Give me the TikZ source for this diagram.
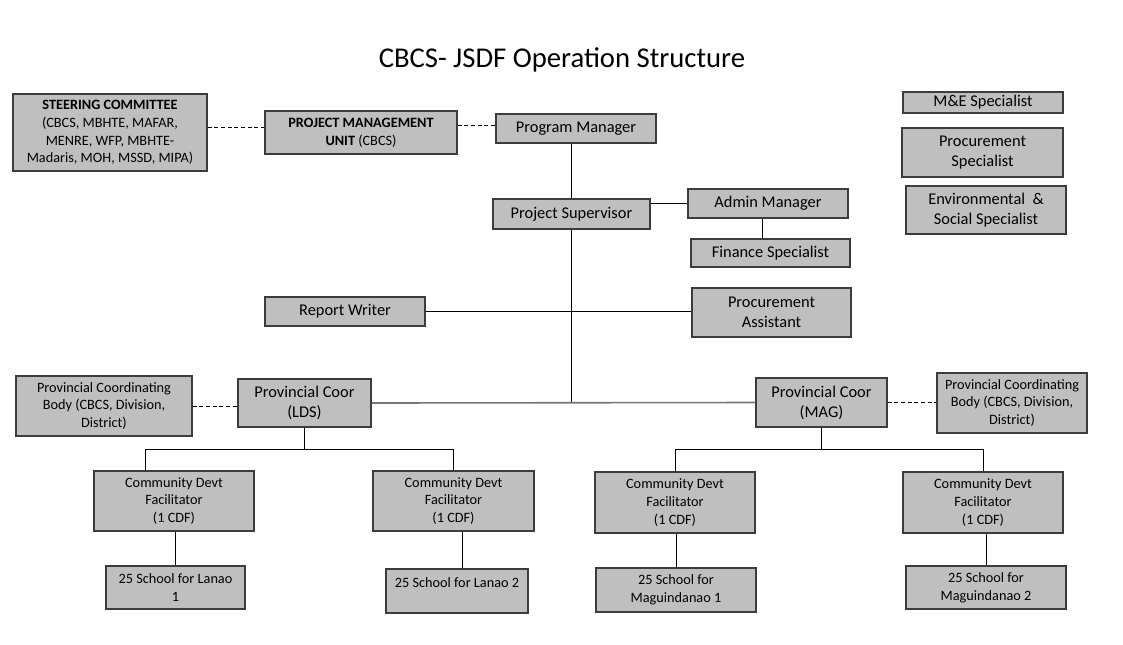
\documentclass[tikz,border=0pt]{standalone}
\usepackage{fontspec}
\setmainfont{Carlito}
\usetikzlibrary{positioning,calc}
\definecolor{boxgray}{RGB}{191,191,191}
\definecolor{edgegray}{RGB}{60,60,60}
\definecolor{linkgray}{RGB}{118,118,118}

\begin{document}
\begin{tikzpicture}[x=0.75pt, y=-0.75pt,
    orgbox/.style={draw=edgegray, fill=boxgray, line width=0.8pt, align=center, inner sep=1pt, font=\fontsize{12.3}{15}\selectfont},
    smallbox/.style={orgbox, font=\fontsize{10.7}{13.4}\selectfont},
    boxsize/.style 2 args={minimum width={#1*0.75pt}, minimum height={#2*0.75pt}},
    link/.style={draw=black, line width=0.75pt},
    dashlink/.style={draw=black, line width=0.65pt, dash pattern=on 3pt off 2pt}]
    \useasboundingbox (0,0) rectangle (1123,644);

    \node (title) at (562,60) {\fontsize{21.5}{26}\selectfont CBCS- JSDF Operation Structure};

    % top level
    \node[smallbox, boxsize={194}{77}] (steer) at (110,132.5) {\textbf{STEERING COMMITTEE}\\(CBCS, MBHTE, MAFAR,\\MENRE, WFP, MBHTE-\\Madaris, MOH, MSSD, MIPA)};
    \node[smallbox, boxsize={192}{43}] (pmu) at (361,132.5) {\textbf{PROJECT MANAGEMENT}\\\textbf{UNIT} (CBCS)};
    \node[orgbox, boxsize={160}{29}] (progman) at (576,128.5) {Program Manager};
    \node[orgbox, boxsize={157}{30}] (projsup) at (571.5,214) {Project Supervisor};
    \node[orgbox, boxsize={160}{29}] (admin) at (768,203.5) {Admin Manager};
    \node[orgbox, boxsize={159}{28}] (finance) at (770.5,253) {Finance Specialist};

    % specialists
    \node[orgbox, boxsize={160}{21}] (mande) at (983,102.5) {M\&E Specialist};
    \node[orgbox, boxsize={161}{49}] (procspec) at (982.5,152.5) {Procurement\\Specialist};
    \node[orgbox, boxsize={160}{48}] (envsoc) at (986,210) {Environmental~ \&\\Social Specialist};

    \node[orgbox, boxsize={160}{29}] (report) at (345,311.5) {Report Writer};
    \node[orgbox, boxsize={159}{49}] (procasst) at (771.5,312.5) {Procurement\\Assistant};

    % provinces
    \node[smallbox, boxsize={176}{60}] (pcbleft) at (104,406) {Provincial Coordinating\\Body (CBCS, Division,\\District)};
    \node[orgbox, boxsize={133}{48}] (lds) at (304.5,403) {Provincial Coor\\(LDS)};
    \node[orgbox, boxsize={131}{49}] (mag) at (821.5,402.5) {Provincial Coor\\(MAG)};
    \node[smallbox, boxsize={150}{60}] (pcbright) at (1012,403) {Provincial Coordinating\\Body (CBCS, Division,\\District)};

    \node[smallbox, boxsize={160}{60}] (cdfa) at (174,501) {Community Devt\\Facilitator\\(1 CDF)};
    \node[smallbox, boxsize={161}{60}] (cdfb) at (453.5,501) {Community Devt\\Facilitator\\(1 CDF)};
    \node[smallbox, boxsize={160}{61}] (cdfc) at (675,502.5) {Community Devt\\Facilitator\\(1 CDF)};
    \node[smallbox, boxsize={160}{61}] (cdfd) at (983,502.5) {Community Devt\\Facilitator\\(1 CDF)};

    \node[smallbox, boxsize={139}{43}] (schoola) at (175.5,587.5) {25 School for Lanao\\1};
    \node[smallbox, boxsize={142}{44}] (schoolb) at (457,591) {25 School for Lanao 2\\\mbox{}};
    \node[smallbox, boxsize={160}{44}] (schoolc) at (676,590) {25 School for\\Maguindanao 1};
    \node[smallbox, boxsize={160}{43}] (schoold) at (986,587.5) {25 School for\\Maguindanao 2};

    % connectors
    \coordinate (trunkend) at (projsup.south |- lds.east);
    \coordinate (ldsfork) at ($(lds.south)+(0,22)$);
    \coordinate (magfork) at ($(mag.south)+(0,22)$);

    \draw[dashlink] (steer.east |- 0,127) -- (pmu.west |- 0,127);
    \draw[dashlink] (pmu.east |- 0,125) -- (progman.west |- 0,125);
    \draw[link] (projsup.north) -- (projsup.north |- progman.south);
    \draw[link] (projsup.east |- admin.west) -- (admin.west);
    \draw[link] ([xshift=-4.5pt]admin.south) -- ([xshift=-4.5pt]admin.south |- finance.north);
    \draw[link] (projsup.south) -- (trunkend);
    \draw[link] (report.east) -- (report.east -| procasst.west);
    \draw[linkgray, line width=1.2pt] (lds.east) -- (mag.west);
    \draw[dashlink] (pcbleft.east) -- (pcbleft.east -| lds.west);
    \draw[dashlink] (mag.east) -- (mag.east -| pcbright.west);

    \draw[link] (lds.south) -- (ldsfork);
    \draw[link] ([xshift=-21.75pt]cdfa.north) |- (ldsfork) -| (cdfb.north);
    \draw[link] (mag.south) -- (magfork);
    \draw[link] (cdfc.north) |- (magfork) -| (cdfd.north);

    \draw[link] (schoola.north) -- (schoola.north |- cdfa.south);
    \draw[link] ([xshift=3.75pt]schoolb.north) -- ([xshift=3.75pt]schoolb.north |- cdfb.south);
    \draw[link] (schoolc.north) -- (schoolc.north |- cdfc.south);
    \draw[link] (schoold.north) -- (schoold.north |- cdfd.south);
\end{tikzpicture}
\end{document}
